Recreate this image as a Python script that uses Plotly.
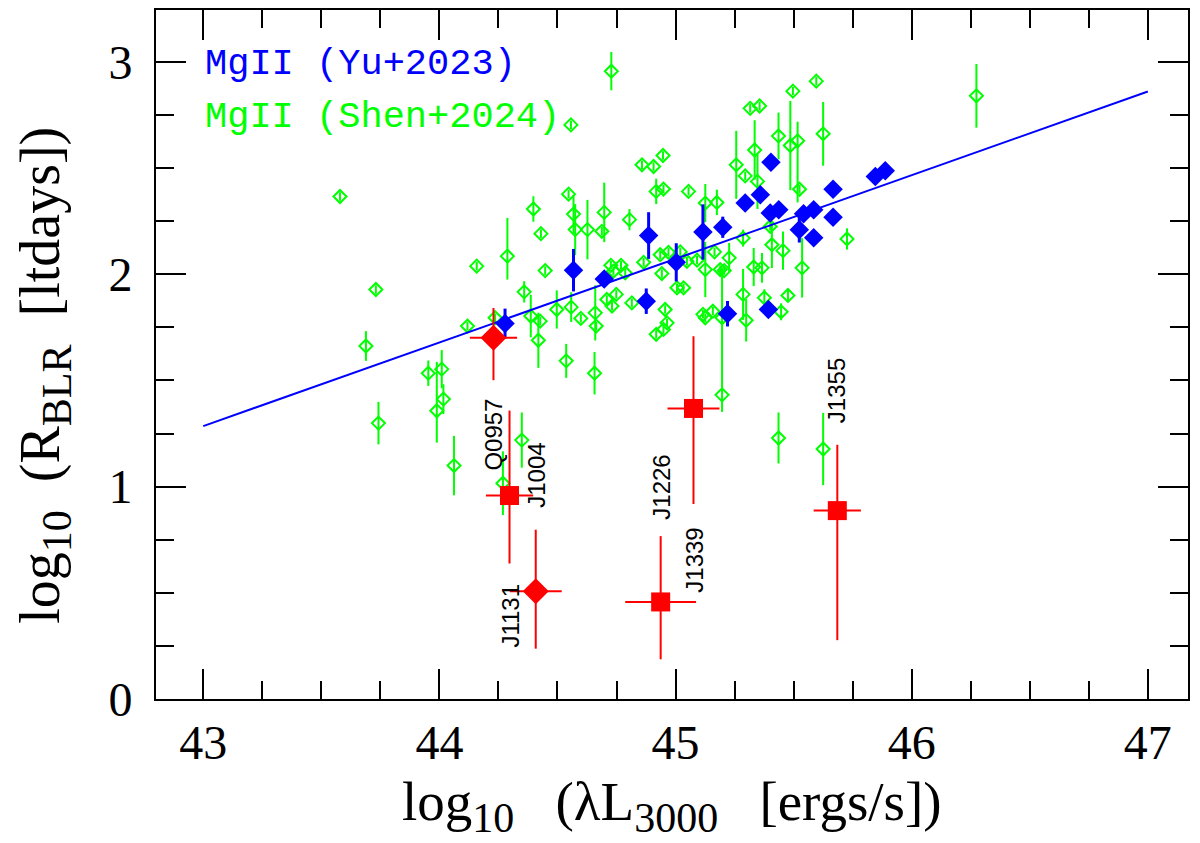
import plotly.graph_objects as go

# MgII (Shen+2024): log L3000, log R_BLR, error
shen_logL = [43.579, 43.731, 43.689, 43.742, 43.953, 44.010, 44.017, 43.989, 44.062, 44.119,
             44.158, 44.236, 44.269, 44.288, 44.349, 44.359, 44.398, 44.387, 44.427, 44.419,
             44.430, 44.448, 44.497, 44.537, 44.547, 44.557, 44.558, 44.568, 44.575, 44.627,
             44.599, 44.657, 44.660, 44.664, 44.698, 44.688, 44.709, 44.728, 44.726, 44.737,
             44.731, 44.749, 44.769, 44.787, 44.805, 44.815, 44.858, 44.907, 44.947, 44.865,
             44.918, 44.949, 44.935, 44.970, 44.942, 44.956, 44.964, 44.918, 44.949, 45.020,
             45.048, 45.006, 45.034, 45.055, 45.091, 45.126, 45.175, 45.126, 45.165, 45.189,
             45.206, 45.227, 45.116, 45.126, 45.158, 45.197, 45.197, 45.286, 45.286, 45.299,
             45.257, 45.295, 45.316, 45.356, 45.335, 45.347, 45.331, 45.366, 45.376, 45.401,
             45.408, 45.436, 45.436, 45.447, 45.455, 45.476, 45.486, 45.497, 45.517, 45.525,
             45.536, 45.596, 45.625, 45.625, 45.726, 46.274]
shen_logR = [2.366, 1.928, 1.662, 1.299, 1.534, 1.553, 1.412, 1.357, 1.099, 1.756,
             2.038, 1.795, 1.016, 2.085, 1.219, 1.917, 2.307, 1.803, 1.779, 1.689,
             2.191, 2.017, 1.834, 1.592, 2.377, 2.703, 1.845, 2.283, 2.210, 2.210,
             1.792, 1.534, 1.818, 1.756, 2.291, 2.202, 1.881, 2.956, 2.042, 2.014,
             1.850, 1.905, 2.042, 2.006, 2.257, 1.865, 2.515, 2.507, 2.559, 2.056,
             2.390, 2.401, 2.092, 2.103, 2.003, 1.834, 1.771, 1.717, 1.740, 2.105,
             2.061, 1.936, 1.936, 2.390, 2.066, 2.335, 2.338, 2.022, 2.105, 2.022,
             2.017, 2.077, 1.811, 1.795, 1.826, 1.795, 1.432, 2.170, 1.905, 1.783,
             2.515, 2.463, 2.781, 2.792, 2.585, 2.437, 2.034, 2.030, 1.889, 2.225,
             2.139, 1.229, 2.651, 1.823, 2.111, 1.900, 2.606, 2.862, 2.628, 2.400,
             2.030, 2.909, 2.661, 1.177, 2.166, 2.840]
shen_errp = [0.02, 0.02, 0.07, 0.10, 0.06, 0.09, 0.07, 0.23, 0.14, 0.02,
             0.02, 0.02, 0.15, 0.18, 0.13, 0.05, 0.06, 0.10, 0.02, 0.13,
             0.02, 0.02, 0.09, 0.08, 0.02, 0.02, 0.07, 0.09, 0.12, 0.14,
             0.02, 0.10, 0.13, 0.02, 0.14, 0.02, 0.02, 0.09, 0.02, 0.02,
             0.02, 0.02, 0.02, 0.02, 0.05, 0.02, 0.02, 0.02, 0.02, 0.02,
             0.06, 0.02, 0.02, 0.02, 0.02, 0.02, 0.02, 0.02, 0.02, 0.02,
             0.02, 0.02, 0.02, 0.02, 0.02, 0.09, 0.06, 0.13, 0.02, 0.02,
             0.02, 0.07, 0.02, 0.02, 0.02, 0.02, 0.60, 0.04, 0.12, 0.10,
             0.16, 0.02, 0.02, 0.02, 0.14, 0.13, 0.09, 0.07, 0.04, 0.02,
             0.11, 0.12, 0.11, 0.04, 0.09, 0.03, 0.21, 0.02, 0.09, 0.02,
             0.14, 0.02, 0.15, 0.17, 0.05, 0.15]
shen_errm = [0.02, 0.02, 0.07, 0.10, 0.06, 0.09, 0.07, 0.15, 0.14, 0.02,
             0.02, 0.02, 0.15, 0.11, 0.13, 0.05, 0.06, 0.10, 0.02, 0.13,
             0.02, 0.02, 0.09, 0.08, 0.02, 0.02, 0.07, 0.09, 0.12, 0.14,
             0.02, 0.10, 0.13, 0.02, 0.14, 0.02, 0.02, 0.09, 0.02, 0.02,
             0.02, 0.02, 0.02, 0.02, 0.05, 0.02, 0.02, 0.02, 0.02, 0.02,
             0.06, 0.02, 0.02, 0.02, 0.02, 0.02, 0.02, 0.02, 0.02, 0.02,
             0.02, 0.02, 0.02, 0.02, 0.02, 0.09, 0.06, 0.13, 0.02, 0.02,
             0.02, 0.07, 0.02, 0.02, 0.02, 0.02, 0.08, 0.04, 0.12, 0.10,
             0.16, 0.02, 0.02, 0.02, 0.14, 0.13, 0.09, 0.07, 0.04, 0.02,
             0.11, 0.12, 0.11, 0.04, 0.09, 0.03, 0.21, 0.02, 0.29, 0.02,
             0.14, 0.02, 0.15, 0.17, 0.05, 0.15]

# MgII (Yu+2023)
yu_logL = [44.278, 44.568, 44.698, 44.886, 44.876, 45.003, 45.116, 45.200, 45.220, 45.295,
           45.359, 45.404, 45.401, 45.437, 45.393, 45.524, 45.542, 45.585, 45.585, 45.667,
           45.667, 45.846, 45.888]
yu_logR = [1.768, 2.019, 1.978, 2.182, 1.873, 2.056, 2.199, 2.221, 1.814, 2.335,
           2.374, 2.527, 2.288, 2.303, 1.834, 2.209, 2.285, 2.303, 2.172, 2.400,
           2.268, 2.460, 2.487]
yu_err = [0.07, 0.10, 0.03, 0.11, 0.06, 0.09, 0.13, 0.05, 0.06, 0.03,
          0.03, 0.03, 0.03, 0.03, 0.03, 0.06, 0.03, 0.03, 0.03, 0.03,
          0.03, 0.03, 0.03]

# new objects (red)
dia_names = ["Q0957", "J1131"]
dia_logL = [44.229, 44.408]
dia_logR = [1.701, 0.507]
dia_xerr = [0.10, 0.11]
dia_yerr_up = [0.14, 0.29]
dia_yerr_dn = [0.20, 0.27]

sq_names = ["J1004", "J1226", "J1339", "J1355"]
sq_logL = [44.297, 44.937, 45.076, 45.685]
sq_logR = [0.958, 0.457, 1.368, 0.887]
sq_xerr = [0.10, 0.15, 0.11, 0.10]
sq_yerr_up = [0.40, 0.31, 0.34, 0.31]
sq_yerr_dn = [0.32, 0.27, 0.45, 0.61]

# label positions
label_names = ["Q0957", "J1004", "J1131", "J1226", "J1339", "J1355"]
label_x = [44.229, 44.410, 44.300, 44.937, 45.079, 45.685]
label_y = [1.247, 1.052, 0.394, 0.998, 0.652, 1.451]

# R-L relation
fit_x = [43.0, 47.0]
fit_y = [1.285, 2.860]

BLUE = "#0000ff"
GREEN = "#00ff00"
RED = "#ff0000"

fig = go.Figure()

fig.add_trace(go.Scatter(
    x=shen_logL, y=shen_logR, mode="markers",
    marker=dict(symbol="diamond-open", size=10, color=GREEN, line=dict(width=2, color=GREEN)),
    error_y=dict(type="data", array=shen_errp, arrayminus=shen_errm, color=GREEN, thickness=2, width=0),
))

fig.add_trace(go.Scatter(x=fit_x, y=fit_y, mode="lines", line=dict(color=BLUE, width=2)))

fig.add_trace(go.Scatter(
    x=yu_logL, y=yu_logR, mode="markers",
    marker=dict(symbol="diamond", size=15, color=BLUE),
    error_y=dict(type="data", array=yu_err, color=BLUE, thickness=3, width=0),
))

fig.add_trace(go.Scatter(
    x=dia_logL, y=dia_logR, mode="markers",
    marker=dict(symbol="diamond", size=20, color=RED),
    error_x=dict(type="data", array=dia_xerr, color=RED, thickness=2, width=0),
    error_y=dict(type="data", array=dia_yerr_up, arrayminus=dia_yerr_dn, color=RED, thickness=2, width=0),
))

fig.add_trace(go.Scatter(
    x=sq_logL, y=sq_logR, mode="markers",
    marker=dict(symbol="square", size=19, color=RED),
    error_x=dict(type="data", array=sq_xerr, color=RED, thickness=2, width=0),
    error_y=dict(type="data", array=sq_yerr_up, arrayminus=sq_yerr_dn, color=RED, thickness=2, width=0),
))

for name, lx, ly in zip(label_names, label_x, label_y):
    fig.add_annotation(x=lx, y=ly, text=name, textangle=-90, showarrow=False,
                       xanchor="center", yanchor="middle",
                       font=dict(family="Liberation Sans", size=24, color="black"))

fig.add_annotation(x=43.0, y=2.99, text="MgII (Yu+2023)", xanchor="left", yanchor="middle",
                   showarrow=False, font=dict(family="Liberation Mono", size=37, color=BLUE))
fig.add_annotation(x=43.0, y=2.74, text="MgII (Shen+2024)", xanchor="left", yanchor="middle",
                   showarrow=False, font=dict(family="Liberation Mono", size=37, color=GREEN))

# axis titles
SUB = '<sub><span style="font-size:42px">{}</span></sub>'
fig.add_annotation(xref="paper", yref="paper", x=0.5, y=-0.155, showarrow=False,
                   xanchor="center", yanchor="middle",
                   text="log" + SUB.format("10") + "   (λL" + SUB.format("3000") + "   [ergs/s])",
                   font=dict(family="Liberation Serif", size=55, color="black"))
fig.add_annotation(xref="paper", yref="paper", x=-0.108, y=0.47, showarrow=False, textangle=-90,
                   xanchor="center", yanchor="middle",
                   text="log" + SUB.format("10") + "  (R" + SUB.format("BLR") + "  [ltdays])",
                   font=dict(family="Liberation Serif", size=56, color="black"))

axis_common = dict(
    showgrid=False, zeroline=False, showline=True, linewidth=2, linecolor="black",
    mirror="allticks", ticks="inside", ticklen=30, tickwidth=2, tickcolor="black",
    tickfont=dict(family="Liberation Serif", size=48, color="black"),
    minor=dict(ticks="inside", ticklen=18, tickwidth=2, tickcolor="black", dtick=0.25, showgrid=False),
)

fig.update_xaxes(range=[42.8, 47.17], tickvals=[43, 44, 45, 46, 47], ticklabelstandoff=0, **axis_common)
fig.update_yaxes(range=[0, 3.244], tickvals=[0, 1, 2, 3], ticklabelstandoff=12, **axis_common)

fig.update_layout(
    width=1200, height=843,
    margin=dict(l=148, r=20, t=0, b=152),
    plot_bgcolor="white", paper_bgcolor="white",
    showlegend=False,
)

fig.write_html("out.html")
